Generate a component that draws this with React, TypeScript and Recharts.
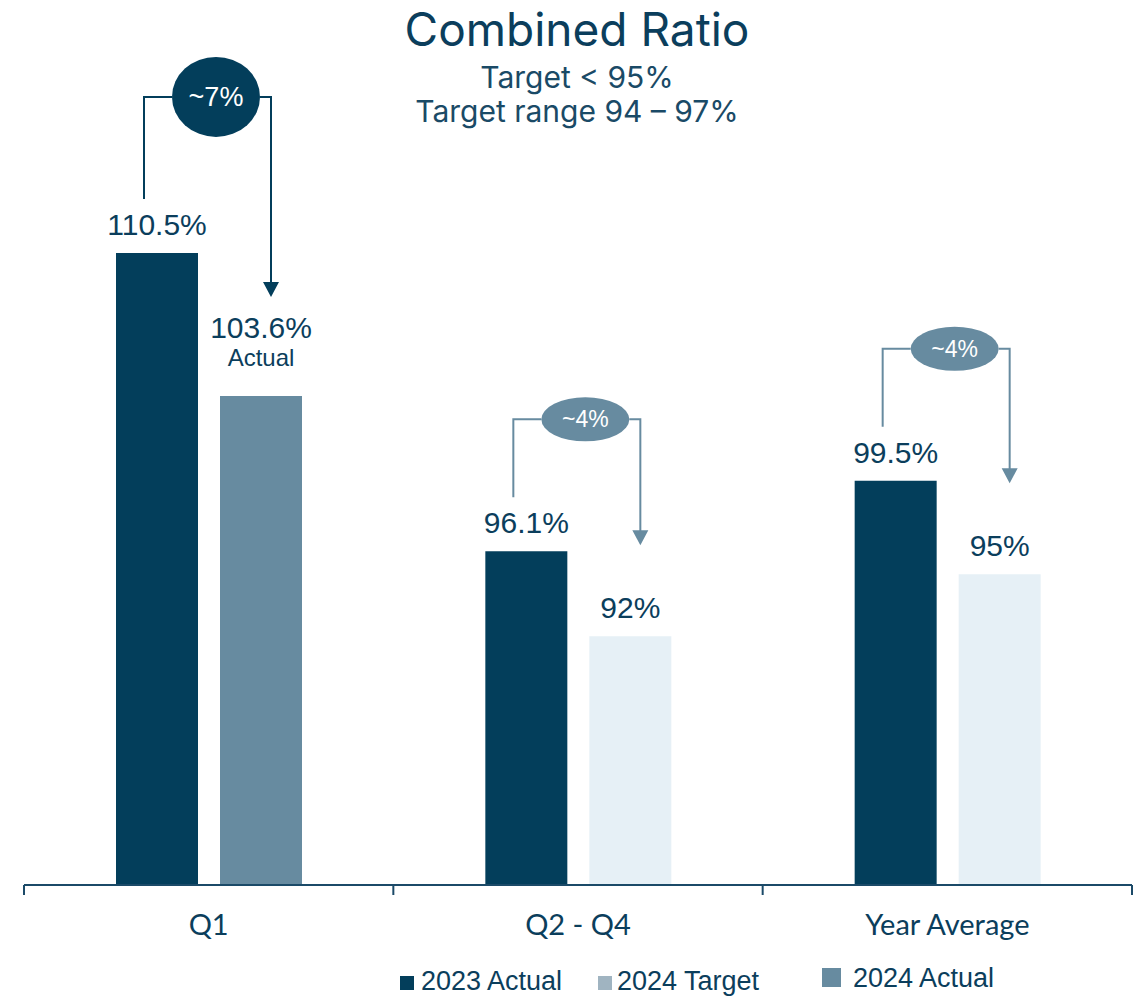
import { BarChart, Bar, XAxis, YAxis, Cell, LabelList, Legend } from 'recharts';

const categories = ['Q1', 'Q2 - Q4', 'Year Average'];
const actual2023 = [110.5, 96.1, 99.5];
const result2024 = [103.6, 92, 95];
const result2024Kind = ['Actual', 'Target', 'Target'];
const gapLabels = ['~7%', '~4%', '~4%'];
const legendLabels = ['2023 Actual', '2024 Target', '2024 Actual'];

const data = categories.map((name, i) => ({
  name,
  a2023: actual2023[i],
  r2024: result2024[i],
  kind: result2024Kind[i],
}));

const CHART_W = 1136;
const CHART_H = 996;
const M_LEFT = 24;
const M_RIGHT = 4;
const BAND = (CHART_W - M_LEFT - M_RIGHT) / categories.length;
const Y_MIN = 80;
const BAR_SIZE = 82;
const BAR_GAP = 22;
const LEGEND_H = 42;

const DARK = '#033E5B';
const MID = '#678BA0';
const LIGHT = '#E6F0F6';
const TARGET_SWATCH = '#A0B4C1';
const TEXT = '#0B3E5C';
const SUB = '#1A4A66';
const AXIS = '#1B4A68';

const VALUE_FONT = "'Liberation Sans', Arial, sans-serif";

const pct = (v: number) => `${v}%`;

function DarkLabel(props: any) {
  const { x, y, width, height, index } = props;
  const v1 = actual2023[index];
  const v2 = result2024[index];
  const perUnit = height / (v1 - Y_MIN);
  const x2 = x + width + BAR_GAP;
  const top2 = y + height - (v2 - Y_MIN) * perUnit;
  const big = index === 0;
  const color = big ? DARK : MID;

  const leftX = x + width / 2 - 13;
  const rightX = x2 + width / 2 + 10;
  const lineBottom = y - 54;
  const bracketY = big ? y - 156 : y - 132;
  const cx = x + width + BAR_GAP / 2 + 7;
  const rx = 44;
  const ry = big ? 40 : 22;
  const tip = big ? top2 - 99 : top2 - 91;

  return (
    <g>
      <text
        x={x + width / 2}
        y={y - 18}
        textAnchor="middle"
        fontSize={30}
        fontFamily={VALUE_FONT}
        fill={TEXT}
      >
        {pct(v1)}
      </text>
      <polyline
        points={`${leftX},${lineBottom} ${leftX},${bracketY} ${cx - rx},${bracketY}`}
        fill="none"
        stroke={color}
        strokeWidth={2}
      />
      <polyline
        points={`${cx + rx},${bracketY} ${rightX},${bracketY} ${rightX},${tip - 14}`}
        fill="none"
        stroke={color}
        strokeWidth={2}
      />
      <polygon points={`${rightX - 8},${tip - 15} ${rightX + 8},${tip - 15} ${rightX},${tip}`} fill={color} />
      <ellipse cx={cx} cy={bracketY} rx={rx} ry={ry} fill={color} />
      <text
        x={cx}
        y={bracketY + (big ? 9 : 8)}
        textAnchor="middle"
        fontSize={big ? 27 : 23}
        fontFamily={VALUE_FONT}
        fill="#FFFFFF"
      >
        {gapLabels[index]}
      </text>
    </g>
  );
}

function SecondLabel(props: any) {
  const { x, y, width, index } = props;
  const isActual = result2024Kind[index] === 'Actual';
  const cx = x + width / 2;
  return (
    <g>
      <text
        x={cx}
        y={isActual ? y - 58 : y - 18}
        textAnchor="middle"
        fontSize={30}
        fontFamily={VALUE_FONT}
        fill={TEXT}
      >
        {pct(result2024[index])}
      </text>
      {isActual && (
        <text x={cx} y={y - 30} textAnchor="middle" fontSize={24} fontFamily={VALUE_FONT} fill={TEXT}>
          Actual
        </text>
      )}
    </g>
  );
}

function CategoryTick(props: any) {
  const { x, y, payload, index } = props;
  const half = BAND / 2;
  return (
    <g>
      <line x1={x - half} x2={x - half} y1={y} y2={y + 10} stroke={AXIS} strokeWidth={2} />
      {index === categories.length - 1 && (
        <line x1={x + half} x2={x + half} y1={y} y2={y + 10} stroke={AXIS} strokeWidth={2} />
      )}
      <text
        x={x}
        y={y + 50}
        textAnchor="middle"
        fontSize={29}
        fontFamily="Lato, sans-serif"
        fill={TEXT}
      >
        {payload.value}
      </text>
    </g>
  );
}

function LegendRow() {
  const swatches = [DARK, TARGET_SWATCH, MID];
  // legend box spans y 954..996 of the page
  return (
    <svg width={CHART_W} height={LEGEND_H} style={{ display: 'block' }}>
      <rect x={400} y={22} width={14} height={14} fill={swatches[0]} />
      <text x={421} y={36} fontSize={27} fontFamily={VALUE_FONT} fill={TEXT}>
        {legendLabels[0]}
      </text>
      <rect x={598} y={22} width={14} height={14} fill={swatches[1]} />
      <text x={617} y={36} fontSize={27} fontFamily={VALUE_FONT} fill={TEXT}>
        {legendLabels[1]}
      </text>
      <rect x={822} y={14} width={19} height={19} fill={swatches[2]} />
      <text x={853} y={33} fontSize={27} fontFamily={VALUE_FONT} fill={TEXT}>
        {legendLabels[2]}
      </text>
    </svg>
  );
}

export default function App() {
  return (
    <div style={{ position: 'absolute', left: 0, top: 0, width: CHART_W, height: CHART_H, background: '#FFFFFF' }}>
      <BarChart
        width={CHART_W}
        height={CHART_H}
        data={data}
        margin={{ top: 56, right: M_RIGHT, bottom: 0, left: M_LEFT }}
        barGap={BAR_GAP}
        barSize={BAR_SIZE}
      >
        <XAxis
          dataKey="name"
          height={111 - LEGEND_H}
          axisLine={{ stroke: AXIS, strokeWidth: 2 }}
          tickLine={false}
          tickSize={0}
          tickMargin={0}
          interval={0}
          tick={<CategoryTick />}
        />
        <YAxis hide domain={[Y_MIN, 120]} />
        <Legend
          verticalAlign="bottom"
          content={() => <LegendRow />}
          wrapperStyle={{ left: 0, bottom: 0, width: CHART_W, height: LEGEND_H }}
        />
        <Bar dataKey="a2023" fill={DARK} isAnimationActive={false}>
          <LabelList dataKey="a2023" content={<DarkLabel />} />
        </Bar>
        <Bar dataKey="r2024" isAnimationActive={false}>
          {data.map((d, i) => (
            <Cell key={`c-${i}`} fill={d.kind === 'Actual' ? MID : LIGHT} />
          ))}
          <LabelList dataKey="r2024" content={<SecondLabel />} />
        </Bar>
      </BarChart>
      <svg
        width={CHART_W}
        height={130}
        style={{ position: 'absolute', left: 0, top: 0, pointerEvents: 'none' }}
      >
        <text x={577} y={46} textAnchor="middle" fontSize={46} fontFamily="Inter, sans-serif" fill={TEXT}>
          Combined Ratio
        </text>
        <text x={577} y={88} textAnchor="middle" fontSize={30} fontFamily="Inter, sans-serif" fill={SUB}>
          Target &lt; 95%
        </text>
        <text x={577} y={122} textAnchor="middle" fontSize={30} fontFamily="Inter, sans-serif" fill={SUB}>
          Target range 94 – 97%
        </text>
      </svg>
    </div>
  );
}
